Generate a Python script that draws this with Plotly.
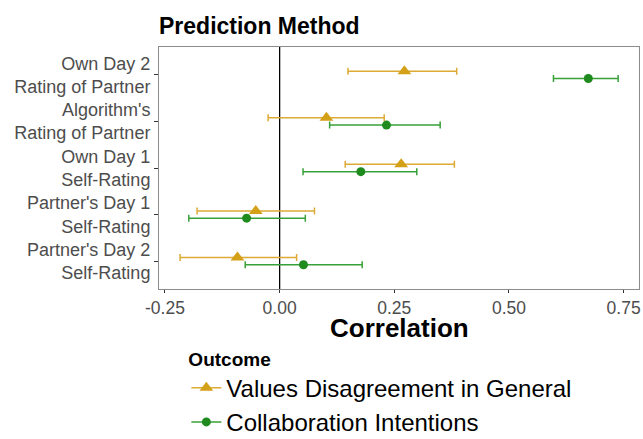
import plotly.graph_objects as go

categories = ["Own Day 2<br>Rating of Partner",
              "Algorithm's<br>Rating of Partner",
              "Own Day 1<br>Self-Rating",
              "Partner's Day 1<br>Self-Rating",
              "Partner's Day 2<br>Self-Rating"]

values_est = [0.272, 0.102, 0.265, -0.052, -0.092]
values_lo = [0.149, -0.025, 0.143, -0.180, -0.217]
values_hi = [0.386, 0.228, 0.381, 0.076, 0.037]

collab_est = [0.673, 0.233, 0.177, -0.072, 0.052]
collab_lo = [0.597, 0.109, 0.051, -0.198, -0.075]
collab_hi = [0.738, 0.350, 0.299, 0.056, 0.180]

x_ticks = [-0.25, 0.0, 0.25, 0.50, 0.75]
x_ticklabels = ["-0.25", "0.00", "0.25", "0.50", "0.75"]

GOLD = "#D4A017"
GOLD_BAR = "#DCAA35"
GREEN = "#1F8B1F"
GREEN_BAR = "#38A038"
FONT = "Liberation Sans, Arial, sans-serif"
dodge = 0.078

fig = go.Figure()

def add_series(name, est, lo, hi, off, color, barcolor, symbol, size):
    ys = [i + off for i in range(len(est))]
    fig.add_trace(go.Scatter(
        x=est, y=ys, mode="markers", showlegend=False, hoverinfo="skip",
        marker=dict(symbol=symbol, size=size, color=color, line=dict(width=0)),
        error_x=dict(type="data", symmetric=False,
                     array=[h - e for h, e in zip(hi, est)],
                     arrayminus=[e - l for e, l in zip(est, lo)],
                     color=barcolor, thickness=1.5, width=3.5),
    ))
    fig.add_trace(go.Scatter(
        x=[None], y=[None], mode="lines+markers", name=name,
        marker=dict(symbol=symbol, size=size, color=color),
        line=dict(color=barcolor, width=1.5),
    ))

add_series("Values Disagreement in General", values_est, values_lo, values_hi,
           -dodge, GOLD, GOLD_BAR, "triangle-up", 12)
add_series("Collaboration Intentions", collab_est, collab_lo, collab_hi,
           dodge, GREEN, GREEN_BAR, "circle", 9)

fig.add_shape(type="line", xref="x", yref="paper", x0=0, x1=0, y0=0, y1=1,
              line=dict(color="black", width=1.3), layer="below")

fig.add_annotation(text="<b>Correlation</b>", xref="paper", yref="paper",
                   x=0.5, y=-0.16, xanchor="center", yanchor="middle",
                   showarrow=False, font=dict(size=26, color="black", family=FONT))

fig.update_layout(
    width=643, height=439,
    margin=dict(l=159, r=4, t=47, b=150, autoexpand=False),
    paper_bgcolor="white", plot_bgcolor="white",
    font=dict(family=FONT, color="#4D4D4D"),
    title=dict(text="<b>Prediction Method</b>", x=0, xref="paper", xanchor="left",
               y=0.941, yref="container", yanchor="middle",
               font=dict(size=23, color="black", family=FONT)),
    xaxis=dict(range=[-0.263, 0.7835], tickvals=x_ticks, ticktext=x_ticklabels,
               showgrid=False, zeroline=False, showline=True, mirror=True,
               linecolor="#8C8C8C", linewidth=1, ticks="outside", ticklen=3,
               tickcolor="#333333", tickfont=dict(size=17.5, color="#4D4D4D"),
               automargin=False),
    yaxis=dict(range=[4.6, -0.6], tickvals=list(range(len(categories))),
               ticktext=categories, showgrid=False, zeroline=False,
               showline=True, mirror=True, linecolor="#8C8C8C", linewidth=1,
               ticks="outside", ticklen=4, tickcolor="#333333", automargin=False,
               tickfont=dict(size=18, color="#4D4D4D")),
    legend=dict(x=0.057, xanchor="left", y=-0.2144, yanchor="top",
                title=dict(text="<b>Outcome</b>", side="top",
                           font=dict(size=19, color="black")),
                font=dict(size=24, color="black"), tracegroupgap=0,
                itemwidth=30, bgcolor="rgba(0,0,0,0)"),
)

fig.write_html("out.html", config={"displayModeBar": False},
               post_script="document.body.style.margin='0';"
                           "document.body.style.overflow='hidden';")
